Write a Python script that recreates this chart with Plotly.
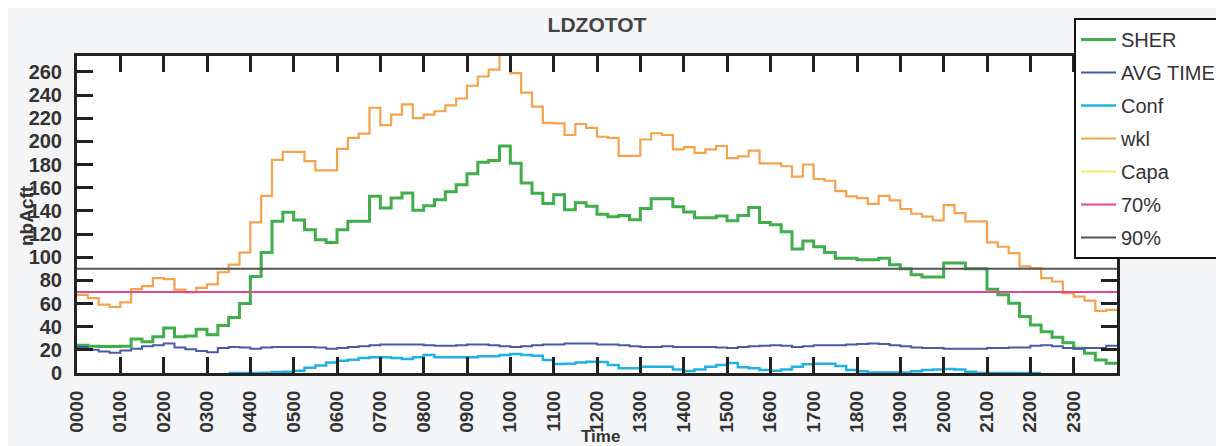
import plotly.graph_objects as go

# ---- data (15-minute slots, value holds until next slot) ----
slot_minutes = list(range(0, 1440, 15))
hour_ticks = list(range(0, 1440, 60))
hour_labels = ["0000", "0100", "0200", "0300", "0400", "0500", "0600", "0700",
               "0800", "0900", "1000", "1100", "1200", "1300", "1400", "1500",
               "1600", "1700", "1800", "1900", "2000", "2100", "2200", "2300"]
y_ticks = [0, 20, 40, 60, 80, 100, 120, 140, 160, 180, 200, 220, 240, 260]

sher = [24, 23, 22.8, 22.8, 23, 29.4, 27, 31.4, 38.8, 31.4, 32, 37.8, 33, 41, 48, 60,
        83.3, 104, 131, 138.7, 132, 123.7, 115, 112.7, 123.7, 131, 131, 152.5, 142.4, 151, 155.5, 140.5,
        144.5, 149.5, 156.5, 162.6, 172, 182, 183.5, 196, 181, 164, 155.3, 146.4, 154, 141, 147, 144,
        137, 135, 136, 132.4, 142, 150.5, 150.5, 143.5, 139, 134, 134, 135.5, 131.5, 136, 143, 130,
        128, 122, 107, 114, 109, 104, 99, 99, 97.8, 97.8, 99, 93.4, 90, 84.8, 82.8, 82.8,
        95, 95, 90, 90, 72.4, 67.5, 60.3, 48.7, 41.5, 35.7, 30.9, 26.2, 21.4, 17, 11.2, 8.4]

avg_time = [22.5, 20, 18.5, 17.5, 19.5, 21, 23, 24, 25.5, 22, 20.5, 19, 18, 21.5, 22.5, 22,
            21, 22, 22.5, 22.5, 22.5, 22.5, 22, 21, 21.5, 22.5, 23, 24, 24.5, 24.5, 24.5, 24.5,
            24, 23.5, 23.5, 24, 24.5, 24.5, 24, 23, 22.5, 23, 24, 24.5, 24.5, 25.5, 25.5, 25.5,
            24.5, 24.5, 24, 23, 22.5, 22.5, 23, 22.5, 22.5, 22.5, 22.5, 22, 21.5, 22.5, 23, 23.5,
            24, 23.5, 22.5, 23, 24, 24, 24, 24.5, 25, 25.5, 25, 24, 23, 22, 21.5, 21.5,
            21, 21, 21, 21, 21.5, 21.5, 22, 22, 23.5, 24, 23, 21.5, 21, 21.5, 21.5, 23.5]

conf = [None] * 14 + [
    0, 0, 0, 0.3, 0.8, 1, 2, 4.5, 6.5, 9, 10.5, 11.5, 13, 13.5, 13.5, 13, 12, 13.5,
    15.6, 13.5, 13.5, 13.5, 13.5, 14.5, 14.5, 15.5, 16.4, 15.5, 15, 11.2, 7.8, 8, 9, 9.8,
    9.5, 6.9, 4, 4, 5.5, 5.5, 5.5, 3, 1.8, 3, 5.5, 7, 8.7, 5, 4, 2.5,
    2, 3, 5.5, 7.5, 8, 8, 6, 2.5, 1.5, 0.5, 0.5, 0.5, 0.5, 1.5, 2.5, 3,
    3.5, 3, 1, 0, 0, 0, 0, 0, 0, 0] + [None] * 6

wkl = [67.5, 64.7, 59, 57, 61, 72.5, 75, 82, 81, 72, 69.5, 73.5, 76.5, 87, 93.5, 104,
       130, 153, 184, 191, 191, 183, 175, 175, 193.5, 203, 206.7, 229, 214, 223, 232, 220,
       223, 226, 231, 237, 248, 256, 262, 280, 259, 242, 230, 216, 215.5, 205.5, 215, 211.7,
       204, 203, 187.5, 187.5, 201.6, 207, 205.5, 193, 195, 190, 193, 196, 185.5, 187, 192, 181,
       181, 178.5, 169.5, 180, 167.5, 166, 157, 152.5, 151, 146, 153, 149, 141.6, 137.5, 135, 131.7,
       145, 138, 131, 131, 112.7, 109, 103.5, 92, 90.5, 82, 79, 69, 66, 62.5, 53.6, 54.5]

capa_x = [0, 1440]
capa = [None, None]   # no visible capacity values in the chart
thr70 = [70, 70]
thr90 = [90, 90]
thr_x = [0, 1440]

# ---- figure ----
x_steps = slot_minutes + [1440]


def ext(v):
    return v + [v[-1]]


# the page adds an 8px body margin, so layout is expressed in figure pixels
W, H = 1216, 438
PL, PR, PT, PB = 69, 1109, 48, 365

FONT = "Liberation Sans, Arial, sans-serif"
fig = go.Figure()
series = [
    ("SHER", x_steps, ext(sher), "#3fae4b", 3),
    ("AVG TIME", x_steps, ext(avg_time), "#4b59a6", 2),
    ("Conf", x_steps, ext(conf), "#22b1e6", 2.5),
    ("wkl", x_steps, ext(wkl), "#f6a24c", 2.2),
    ("Capa", capa_x, capa, "#f3ee8a", 2.5),
    ("70%", thr_x, thr70, "#e2468e", 2),
    ("90%", thr_x, thr90, "#555555", 2),
]
for name, xs, ys, col, w in series:
    fig.add_trace(go.Scatter(
        x=xs, y=ys, name=name, mode="lines",
        line=dict(color=col, width=w, shape="hv"),
        legendgroup=name, connectgaps=False,
    ))

axis_common = dict(
    showline=True, linecolor="#222222", linewidth=3, mirror="allticks",
    ticks="inside", ticklen=16, tickwidth=2.5, tickcolor="#222222",
    showgrid=False, zeroline=False, automargin=False,
)

pw, ph = PR - PL, PB - PT


def px_x(x):
    return (x - PL) / pw


def px_y(y):
    return (PB - y) / ph


fig.update_layout(
    width=W, height=H,
    margin=dict(l=PL, r=W - PR, t=PT, b=H - PB, autoexpand=False),
    paper_bgcolor="#f4f5f7", plot_bgcolor="#ffffff",
    title=dict(text="<b>LDZOTOT</b>", x=589 / W, xanchor="center",
               y=1 - 17 / H, yanchor="middle",
               font=dict(family=FONT, size=21, color="#444444")),
    xaxis=dict(range=[0, 1440], tickvals=hour_ticks, ticktext=hour_labels,
               tickangle=-90, ticklabelstandoff=7,
               tickfont=dict(family=FONT, size=19, color="#333333", weight="bold"),
               **axis_common),
    yaxis=dict(range=[0, 273.7], tickvals=y_ticks, ticklabelstandoff=8,
               tickfont=dict(family=FONT, size=20, color="#333333", weight="bold"),
               **axis_common),
    legend=dict(
        x=px_x(1066), xanchor="left", y=px_y(10), yanchor="top",
        bgcolor="#ffffff", bordercolor="#111111", borderwidth=2,
        font=dict(family=FONT, size=20, color="#333333"),
        tracegroupgap=4, traceorder="grouped", itemwidth=35,
        maxheight=400,
    ),
    showlegend=True,
    annotations=[
        dict(text="<b>nbAcft</b>", xref="paper", yref="paper",
             x=px_x(18), y=px_y(208), textangle=-90,
             showarrow=False, xanchor="center", yanchor="middle",
             font=dict(family=FONT, size=19, color="#333333")),
        dict(text="<b>Time</b>", xref="paper", yref="paper",
             x=px_x(592), y=px_y(428),
             showarrow=False, xanchor="center", yanchor="middle",
             font=dict(family=FONT, size=17, color="#333333")),
    ],
)

fig.write_html("out.html")
